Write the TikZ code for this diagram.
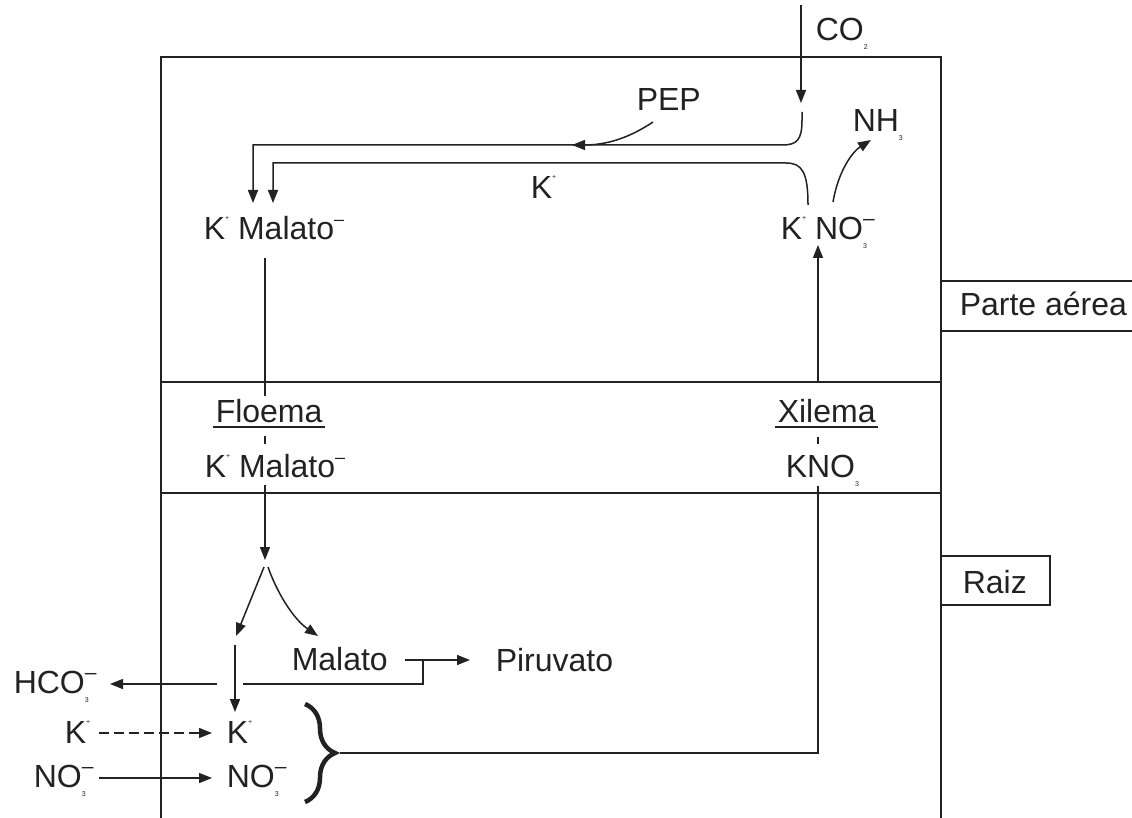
\documentclass[tikz,border=0pt]{standalone}
\usepackage{fontspec}
\setmainfont{Liberation Sans}
\usetikzlibrary{arrows.meta,decorations.pathreplacing}
\definecolor{ink}{HTML}{222222}
\newcommand{\sm}[1]{{\fontsize{7}{7}\selectfont #1}}
\newcommand{\Kp}{K\raisebox{19pt}{\sm{+}}}
\newcommand{\subminus}[1]{\makebox[0pt][l]{\raisebox{-9pt}{\sm{#1}}}\raisebox{14pt}{\fontsize{21}{21}\selectfont –}}
\newcommand{\subonly}[1]{\raisebox{-9pt}{\sm{#1}}}
\newcommand{\minusup}{\raisebox{14pt}{\fontsize{18}{18}\selectfont –}}
\begin{document}
\begin{tikzpicture}[x=1pt,y=-1pt,line width=1.5pt,draw=ink,
  every node/.style={inner sep=0pt,text=ink,font=\fontsize{32}{38}\selectfont},
  lbl/.style={anchor=base west},
  arr/.style={-{Triangle[length=13pt,width=10pt]}},
  brk/.style={dash pattern=on 10pt off 5pt}]
\useasboundingbox (0,0) rectangle (1132,818);
% frame
\draw (161,818) -- (161,57) -- (941,57) -- (941,818);
\draw (161,382) -- (941,382);
\draw (161,493) -- (941,493);
\draw (941,281) -- (1132,281);
\draw (941,331) -- (1132,331);
\draw (941,556) -| (1050,605) -- (941,605);
\node[lbl] (parte) at (959,315) {Parte aérea};
\node[lbl] (raiz) at (962,593) {Raiz};
% labels
\node[lbl] (co2) at (815,41) {CO\subonly{2}};
\node[lbl] (pep) at (636,111) {PEP};
\node[lbl] (nh3) at (852,132) {NH\subonly{3}};
\node[lbl] (kmid) at (530,199) {\Kp};
\node[lbl] (kmal) at (203,240) {\Kp{} Malato\minusup};
\node[lbl] (kno3top) at (780,240) {\Kp{} NO\subminus{3}};
\node[lbl] (floema) at (215,422) {Floema};
\node[lbl] (xilema) at (777,422) {Xilema};
\node[lbl] (kmal2) at (204,477) {\Kp{} Malato\minusup};
\node[lbl] (kno3) at (785,477) {KNO\subonly{3}};
\node[lbl] (malato) at (291,670) {Malato};
\node[lbl] (piruvato) at (495,671) {Piruvato};
\node[lbl] (hco3) at (13,693) {HCO\subminus{3}};
\node[lbl] (kl) at (64,743) {\Kp};
\node[lbl] (nol) at (33,787) {NO\subminus{3}};
\node[lbl] (kr) at (226,743) {\Kp};
\node[lbl] (nor) at (226,787) {NO\subminus{3}};
\draw ([xshift=-2pt,yshift=-5pt]floema.base west) -- ([xshift=2pt,yshift=-5pt]floema.base east);
\draw ([xshift=-2pt,yshift=-5pt]xilema.base west) -- ([xshift=2pt,yshift=-5pt]xilema.base east);
% coordinates
\coordinate (co2a) at (801,5);   \coordinate (co2b) at (801,103);
\coordinate (ja) at (802,112);
\coordinate (m1) at (253,203);   \coordinate (m2) at (273,203);
\coordinate (ka) at (808,205);
\coordinate (pa) at (653,122);   \coordinate (pb) at (572,145);
\coordinate (na) at (833,202);   \coordinate (nb) at (871,140);
\coordinate (xa) at (818,382);   \coordinate (xb) at (818,245);
\coordinate (fa) at (265,258);   \coordinate (fb) at (265,396);
\coordinate (fc) at (265,485);   \coordinate (fd) at (265,560);
\coordinate (ga) at (818,486);   \coordinate (gb) at (818,753);
\coordinate (bt) at (340,753);
\coordinate (forkl) at (264,567); \coordinate (forkr) at (268,567);
\coordinate (kdown) at (236,636); \coordinate (mdown) at (318,636);
\coordinate (va) at (235,645);   \coordinate (vb) at (235,712);
\coordinate (mp1) at (405,660);  \coordinate (mp2) at (470,660);
\coordinate (ha) at (217,684);   \coordinate (hb) at (110,684);
\coordinate (kda) at (99,733);   \coordinate (kdb) at (212,733);
\coordinate (noa) at (99,778);   \coordinate (nob) at (212,778);
% connectors
\draw[arr] (co2a) -- (co2b);
\draw[arr] (ja) -- (802,120) .. controls (802,140) and (797,145) .. (782,145) -- (253,145) -- (m1);
\draw[arr] (ka) .. controls (808,172) and (802,163) .. (786,163) -- (273,163) -- (m2);
\draw[arr] (pa) .. controls (635,134) and (612,145) .. (pb);
\draw[arr] (na) .. controls (838,172) and (852,152) .. (nb);
\draw[arr] (xa) -- (xb);
\draw (fa) -- (fb);
\draw (265,436) -- (265,444);
\draw[arr] (fc) -- (fd);
\draw (818,437) -- (818,444);
\draw (ga) -- (gb) -- (bt);
\draw[arr] (forkl) -- (kdown);
\draw[arr] (forkr) .. controls (276,590) and (292,618) .. (mdown);
\draw[arr] (va) -- (vb);
\draw[arr] (mp1) -- (mp2);
\draw (423,660) -- (423,684) -- (243,684);
\draw[arr] (ha) -- (hb);
\draw[arr,brk] (kda) -- (kdb);
\draw[arr] (noa) -- (nob);
\draw[decorate,decoration={brace,amplitude=30pt},line width=4.5pt] (305,704) -- (305,802);
\end{tikzpicture}
\end{document}
